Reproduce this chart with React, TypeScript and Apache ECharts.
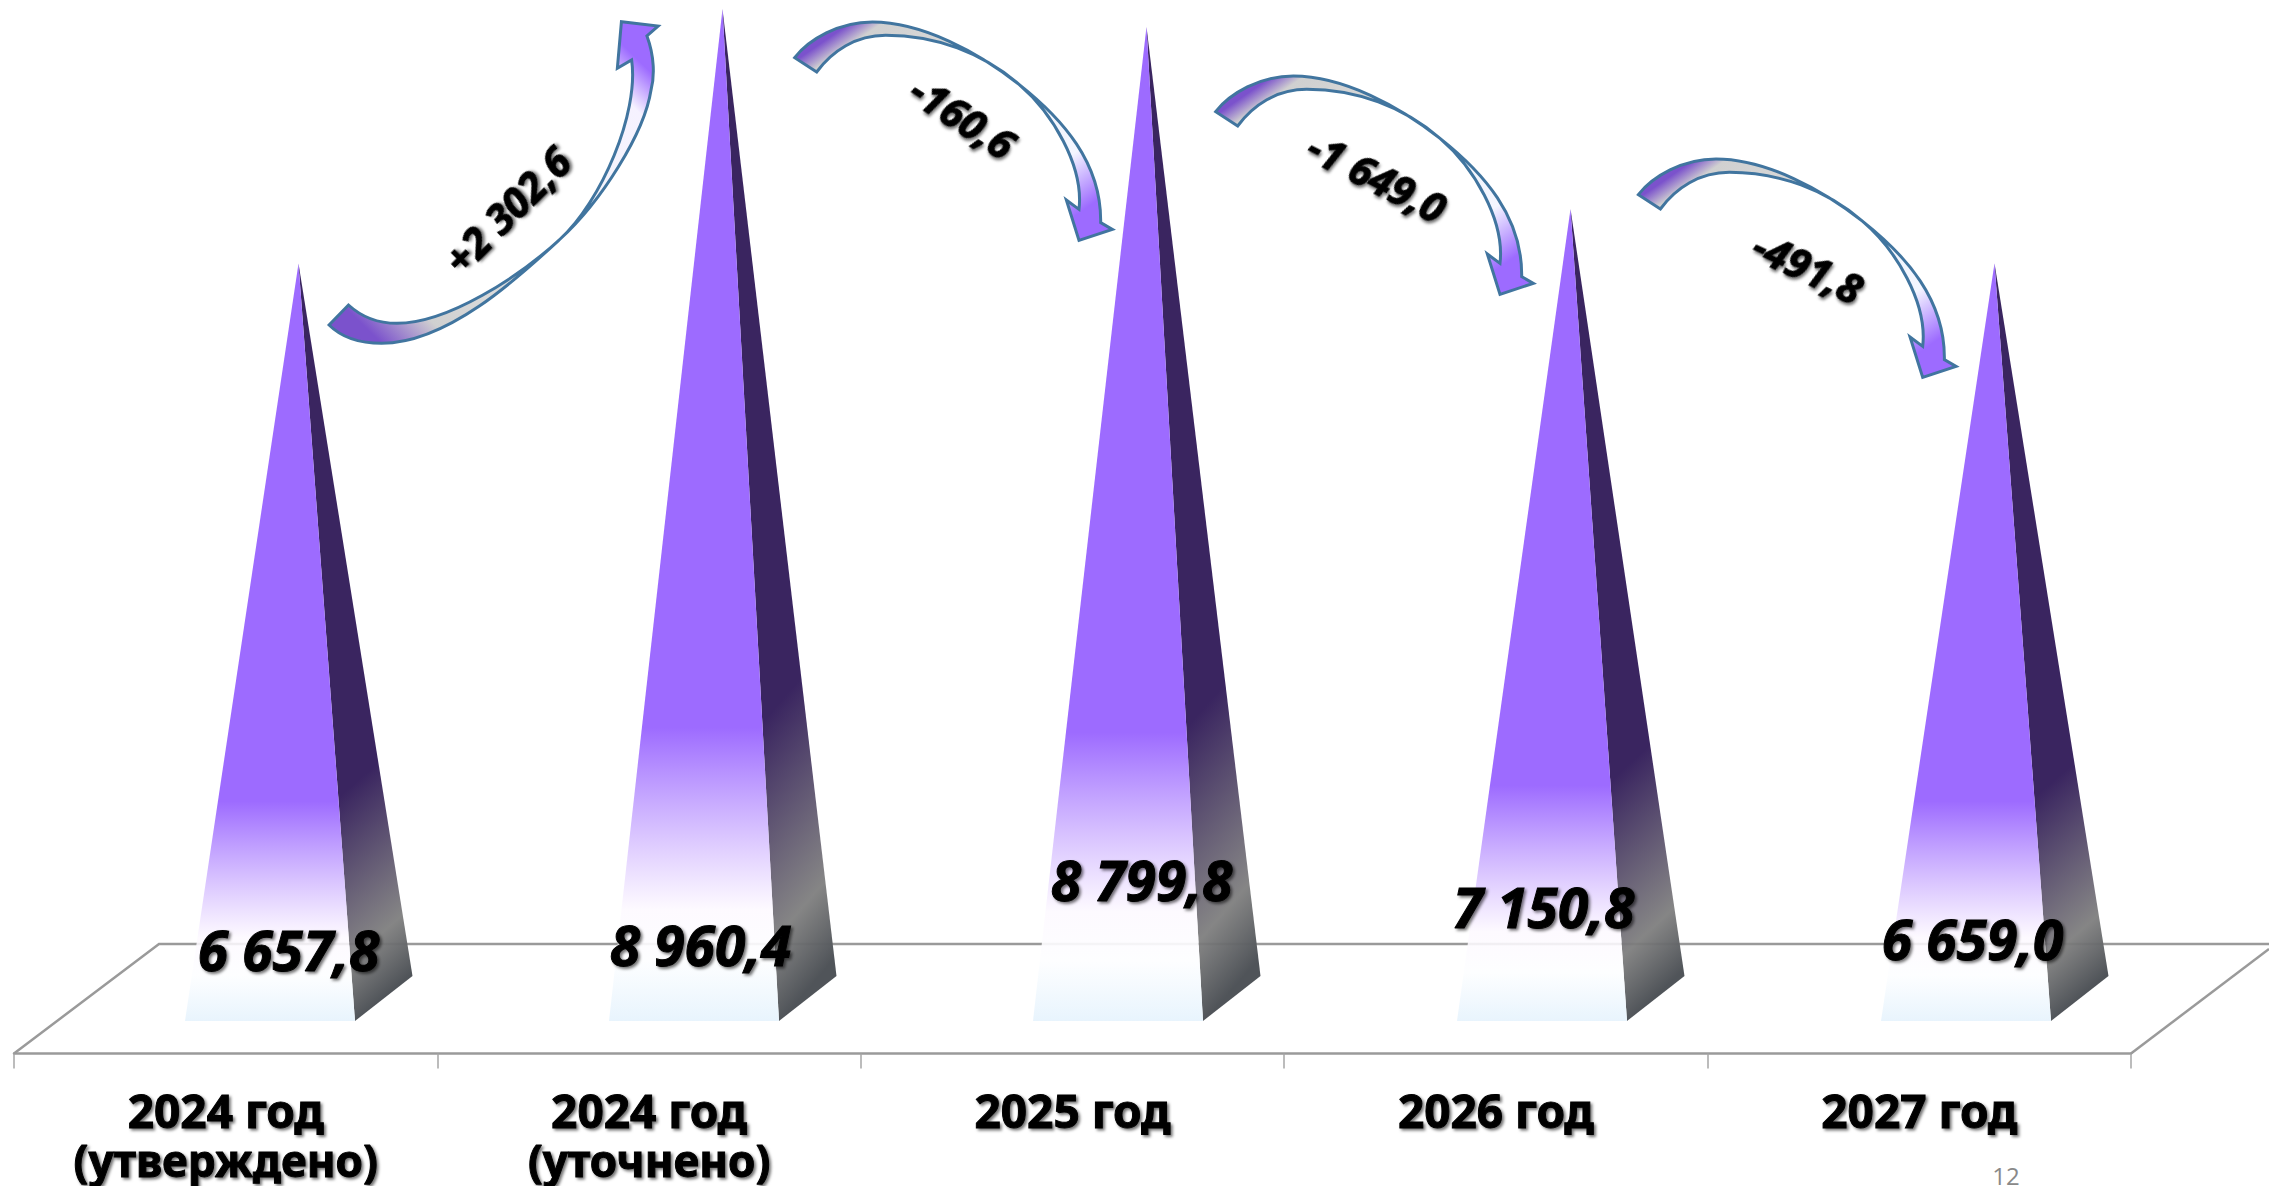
import React, { useEffect, useRef } from "react";
import * as echarts from "echarts";

const categories = ["2024 год\n(утверждено)", "2024 год\n(уточнено)", "2025 год", "2026 год", "2027 год"];
const values = [6657.8, 8960.4, 8799.8, 7150.8, 6659.0];
const deltaLabels = ["+2 302,6", "-160,6", "-1 649,0", "-491,8"];
const pageNumber = "12";

const valueLabelY = [949, 944, 879, 906, 938];
const valueLabelDx = [-10, -22, -5, -27, -22];

const FONT = '"Noto Sans"';
const PURPLE = "#9D6BFF";

type Pt = [number, number];
type Map2 = (p: number[]) => Pt;

// outline of an arrow from absolute commands in crop units: a lone point is a straight edge, three are a cubic
function outline(map: Map2, start: number[], steps: number[][][]): string {
  const s = map(start);
  let d = `M${s[0]} ${s[1]}`;
  for (const step of steps) {
    const m = step.map(map);
    d += m.length === 1 ? `L${m[0][0]} ${m[0][1]}` : `C${m[0][0]} ${m[0][1]} ${m[1][0]} ${m[1][1]} ${m[2][0]} ${m[2][1]}`;
  }
  return d + "Z";
}

const U: Map2 = (p) => [300 + p[0] / 1.96, p[1] / 3];
const upPath = outline(U, [95, 915], [
  [[120, 950], [150, 970], [190, 970]],
  [[290, 970], [430, 830], [510, 717]],
  [[590, 605], [665, 340], [650, 180]],
  [[622, 205]], [[630, 65]], [[702, 78]], [[680, 108]],
  [[695, 170], [695, 230], [688, 270]],
  [[675, 400], [590, 605], [510, 717]],
  [[430, 830], [290, 1030], [160, 1030]],
  [[115, 1030], [80, 1010], [57, 975]],
]);

const D: Map2 = (p) => [1200 + p[0] / 3, 60 + p[1] / 3];
const downPath = outline(D, [47, 155], [
  [[90, 100], [180, 48], [280, 48]],
  [[430, 48], [600, 140], [720, 235]],
  [[850, 338], [968, 470], [965, 650]],
  [[1000, 670]], [[900, 703]], [[862, 582]], [[900, 610]],
  [[915, 480], [820, 320], [720, 235]],
  [[610, 140], [470, 88], [320, 88]],
  [[230, 88], [160, 135], [113, 198]],
]);

echarts.graphic.registerShape("arrowUp", echarts.graphic.extendPath(upPath, {}));
echarts.graphic.registerShape("arrowDown", echarts.graphic.extendPath(downPath, {}));

const TAIL = "#7B52CC";
const arrowStroke = { stroke: "#41759F", lineWidth: 3, lineJoin: "miter" };
const upFill = {
  type: "linear", x: 0, y: 1, x2: 1, y2: 0,
  colorStops: [
    { offset: 0, color: TAIL }, { offset: 0.08, color: TAIL }, { offset: 0.19, color: "#D0D0D0" },
    { offset: 0.4, color: "#E0E0E0" }, { offset: 0.6, color: "#F4F4FA" }, { offset: 0.83, color: "#F6F2FF" },
    { offset: 0.91, color: PURPLE }, { offset: 1, color: PURPLE },
  ],
};
const downFill = {
  type: "linear", x: 0, y: 0, x2: 1, y2: 1,
  colorStops: [
    { offset: 0, color: TAIL }, { offset: 0.09, color: TAIL }, { offset: 0.14, color: "#D0D0D0" },
    { offset: 0.3, color: "#D8D8D8" }, { offset: 0.45, color: "#F0F4FA" }, { offset: 0.74, color: "#F4F6FF" },
    { offset: 0.885, color: PURPLE }, { offset: 1, color: PURPLE },
  ],
};

const frontFill = {
  type: "linear", x: 0, y: 0, x2: 0, y2: 1,
  colorStops: [
    { offset: 0, color: PURPLE }, { offset: 0.71, color: PURPLE },
    { offset: 0.89, color: "rgba(253,249,255,0.85)" }, { offset: 0.94, color: "rgba(253,254,255,0.95)" },
    { offset: 1, color: "#E8F4FD" },
  ],
};
const sideFill = {
  type: "linear", x: 0, y: 0, x2: 0.14, y2: 1.07,
  colorStops: [
    { offset: 0, color: "#3A2560" }, { offset: 0.69, color: "#3A2560" },
    { offset: 0.9, color: "rgba(124,124,124,0.93)" }, { offset: 0.98, color: "#505459" }, { offset: 1, color: "#505459" },
  ],
};

function fmt(v: number): string {
  const [a, b] = v.toFixed(1).split(".");
  const head = a.length > 3 ? a.slice(0, a.length - 3) + " " + a.slice(-3) : a;
  return head + "," + b;
}

const shadow = { textShadowColor: "rgba(0,0,0,0.55)", textShadowBlur: 3, textShadowOffsetX: 2, textShadowOffsetY: 2 };
const heavyAxis = { textBorderColor: "#000", textBorderWidth: 1 };
const heavyShape = { stroke: "#000", lineWidth: 1 };

function deltaText(text: string, x: number, y: number, deg: number) {
  return {
    type: "text", x, y, rotation: (deg * Math.PI) / 180, z: 20,
    style: { text, font: `italic bold 41px ${FONT}`, fill: "#000", textAlign: "center", textVerticalAlign: "middle", ...heavyShape, ...shadow },
  };
}

const floorColor = "#9A9A9A";
const labelRich = { fontFamily: FONT, fontWeight: "bold", color: "#000", ...heavyAxis, ...shadow };

export default function App() {
  const ref = useRef<HTMLDivElement>(null);
  useEffect(() => {
    document.body.style.margin = "0";
    const chart = echarts.init(ref.current!, undefined, { renderer: "svg" });
    chart.setOption({
      animation: false,
      backgroundColor: "#fff",
      grid: [
        { left: 86.5, width: 2120, top: 4.6, height: 994.4 },
        { left: 14, width: 2117, top: 900, height: 153.5 },
      ],
      xAxis: [
        { type: "category", data: categories, gridIndex: 0, show: false },
        {
          type: "category", data: categories, gridIndex: 1,
          axisLine: { show: true, lineStyle: { color: floorColor, width: 2.5 } },
          axisTick: { show: true, length: 15, lineStyle: { color: "#A6A6A6", width: 1.5 } },
          axisLabel: {
            interval: 0, margin: 31, verticalAlign: "top",
            formatter: (v: string) => {
              const [a, b] = v.split("\n");
              return b ? `{a|${a}}\n{b|${b}}` : `{a|${a}}`;
            },
            rich: {
              a: { ...labelRich, fontSize: 46, lineHeight: 50 },
              b: { ...labelRich, fontSize: 44, lineHeight: 50 },
            },
          },
        },
      ],
      yAxis: [
        { type: "value", min: 0, max: 9000, gridIndex: 0, show: false },
        { type: "value", min: 0, max: 1, gridIndex: 1, show: false },
      ],
      series: [
        {
          type: "custom", xAxisIndex: 0, yAxisIndex: 0, z: 5, clip: false,
          data: values.map((v, i) => [i, v]),
          encode: { x: 0, y: 1 },
          renderItem: (_p: any, api: any) => {
            const i = api.value(0);
            const [ax, ay] = api.coord([i, api.value(1)]);
            const [, by] = api.coord([i, 0]);
            const L: Pt = [ax - 113.5, by + 22];
            const R: Pt = [ax + 56.5, by + 22];
            const B: Pt = [ax + 114, by - 23];
            return {
              type: "group",
              children: [
                { type: "polygon", shape: { points: [[ax, ay], R, B] }, style: { fill: sideFill } },
                { type: "polygon", shape: { points: [[ax, ay], L, R] }, style: { fill: frontFill } },
                {
                  type: "text", z2: 10, x: ax + valueLabelDx[i], y: valueLabelY[i],
                  style: {
                    text: fmt(api.value(1)), font: `italic bold 55px ${FONT}`, fill: "#000",
                    textAlign: "center", textVerticalAlign: "middle", ...heavyShape, ...shadow,
                  },
                },
              ],
            };
          },
        },
      ],
      graphic: [
        { type: "polyline", z: 1, shape: { points: [[14, 1053.5], [159, 944], [2269, 944]] }, style: { stroke: floorColor, lineWidth: 2.5, fill: "none" } },
        { type: "line", z: 1, shape: { x1: 2131, y1: 1053.5, x2: 2269, y2: 949 }, style: { stroke: floorColor, lineWidth: 2.5 } },
        { type: "arrowUp", z: 10, style: { fill: upFill, ...arrowStroke } },
        { type: "arrowDown", x: -421, y: -54, z: 10, style: { fill: downFill, ...arrowStroke } },
        { type: "arrowDown", z: 10, style: { fill: downFill, ...arrowStroke } },
        { type: "arrowDown", x: 422.7, y: 83, z: 10, style: { fill: downFill, ...arrowStroke } },
        deltaText(deltaLabels[0], 507, 210, 45),
        deltaText(deltaLabels[1], 963, 117, -33),
        deltaText(deltaLabels[2], 1377, 177, -27),
        deltaText(deltaLabels[3], 1808, 267, -25),
        {
          type: "text", x: 2006, y: 1175, z: 20,
          style: { text: pageNumber, font: '24px "Open Sans"', fill: "#898989", textAlign: "center", textVerticalAlign: "middle" },
        },
      ],
    });
    return () => chart.dispose();
  }, []);
  return <div ref={ref} style={{ position: "absolute", left: 0, top: 0, width: 2269, height: 1186, overflow: "hidden" }} />;
}
